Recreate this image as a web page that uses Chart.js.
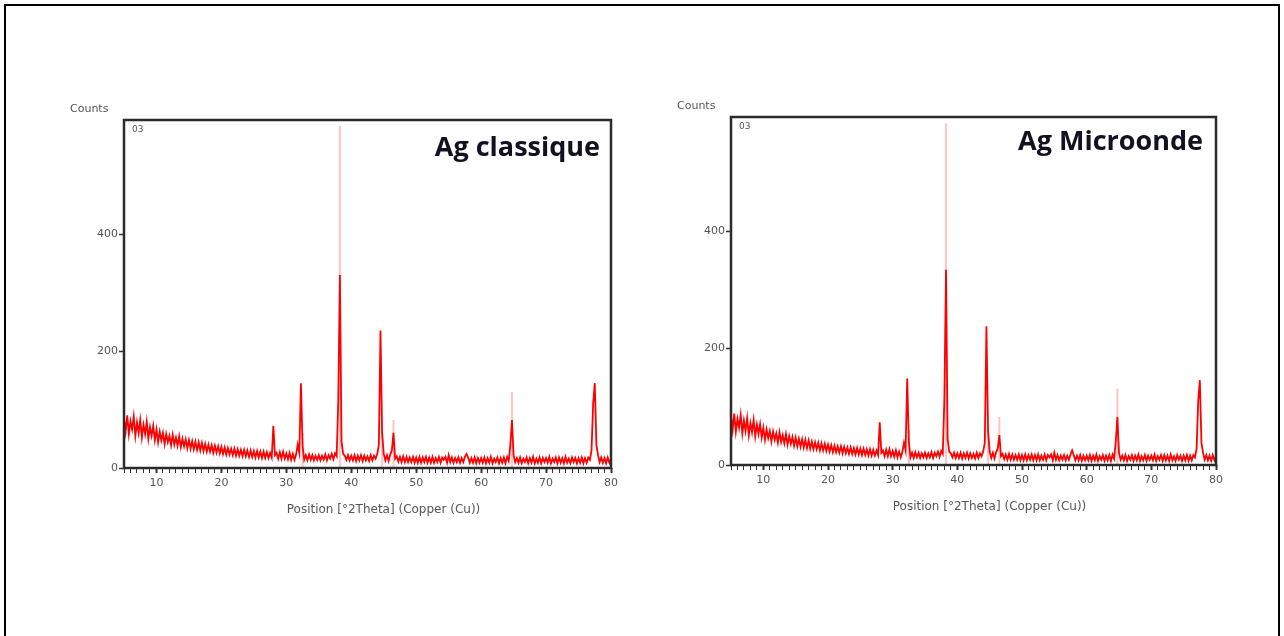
<!DOCTYPE html>
<html>
<head>
<meta charset="utf-8">
<script src="https://cdn.jsdelivr.net/npm/chart.js@4.4.1/dist/chart.umd.min.js"></script>
<style>
    body { margin: 0; background: #ffffff; width: 1284px; height: 636px; overflow: hidden; position: relative; }
    #frame { position: absolute; left: 4px; top: 4px; width: 1272px; height: 700px; border: 2px solid #000; border-bottom: none; }
    .plot { position: absolute; }
</style>
</head>
<body>
<div id="frame"></div>
<div class="plot" style="left:60px; top:95px;"><canvas id="chartClassique" width="570" height="430"></canvas></div>
<div class="plot" style="left:670px; top:92px;"><canvas id="chartMicroonde" width="570" height="430"></canvas></div>
<script>
// scan: 5 to 80 deg 2theta, step 0.25
startAngle = 5;
stepAngle = 0.25;

// counts, one row per 5 degrees
countsClassique = [
    85, 62, 90, 58, 80, 66, 88, 55, 78, 60, 82, 52, 74, 58, 79, 50, 70, 55, 72, 48,
    66, 44, 62, 47, 60, 41, 58, 44, 55, 39, 57, 40, 52, 38, 54, 36, 50, 37, 49, 34,
    48, 33, 46, 32, 45, 31, 44, 30, 43, 29, 41, 28, 40, 28, 39, 26, 38, 26, 37, 25,
    36, 24, 35, 23, 34, 23, 33, 22, 33, 21, 32, 21, 31, 20, 31, 20, 30, 19, 30, 19,
    29, 18, 29, 18, 28, 17, 28, 17, 27, 17, 26, 18, 72, 22, 26, 16, 27, 16, 28, 16,
    25, 15, 26, 14, 24, 14, 23, 40, 26, 145, 38, 14, 22, 13, 23, 14, 22, 13, 21, 14,
    22, 13, 21, 14, 23, 13, 22, 16, 24, 15, 25, 20, 115, 330, 45, 24, 21, 14, 22, 13,
    21, 13, 22, 12, 21, 13, 22, 12, 21, 13, 20, 12, 22, 13, 21, 16, 24, 40, 235, 60,
    24, 13, 22, 12, 23, 30, 60, 16, 20, 11, 19, 10, 20, 10, 19, 10, 18, 10, 19, 9,
    18, 9, 19, 9, 18, 10, 19, 9, 18, 9, 19, 9, 17, 10, 19, 9, 18, 14, 19, 9,
    22, 10, 18, 9, 17, 10, 18, 9, 17, 10, 19, 24, 18, 9, 17, 9, 18, 8, 17, 9,
    17, 9, 18, 8, 17, 9, 19, 8, 16, 10, 18, 8, 17, 9, 18, 8, 19, 12, 40, 82,
    22, 10, 17, 9, 18, 8, 16, 10, 18, 8, 17, 9, 19, 8, 16, 9, 18, 8, 17, 10,
    17, 9, 19, 8, 16, 10, 18, 8, 18, 9, 17, 8, 19, 9, 16, 8, 18, 10, 17, 8,
    17, 9, 18, 8, 17, 9, 18, 14, 30, 110, 145, 40, 22, 10, 18, 9, 17, 8, 18, 9,
    16
];

countsMicroonde = [
    83, 60, 88, 57, 79, 64, 86, 54, 76, 58, 80, 51, 72, 56, 77, 49, 69, 53, 70, 47,
    64, 43, 61, 46, 58, 40, 57, 43, 54, 38, 56, 39, 51, 37, 53, 35, 49, 36, 48, 33,
    47, 32, 45, 31, 44, 30, 43, 29, 42, 28, 40, 27, 39, 27, 38, 25, 37, 25, 36, 24,
    35, 23, 34, 22, 33, 22, 32, 21, 32, 20, 31, 20, 30, 19, 30, 19, 29, 18, 29, 18,
    28, 17, 28, 17, 27, 16, 27, 16, 26, 16, 25, 17, 73, 21, 25, 15, 26, 15, 27, 15,
    24, 14, 25, 13, 23, 13, 22, 38, 25, 148, 40, 13, 21, 12, 22, 13, 21, 12, 20, 13,
    21, 12, 20, 13, 22, 12, 21, 15, 23, 14, 24, 19, 114, 334, 44, 23, 20, 13, 21, 12,
    20, 12, 21, 11, 20, 12, 21, 11, 20, 12, 19, 11, 21, 12, 20, 15, 23, 38, 237, 58,
    23, 12, 21, 11, 22, 28, 51, 15, 19, 10, 18, 9, 19, 9, 18, 9, 17, 9, 18, 8,
    17, 8, 18, 8, 17, 9, 18, 8, 17, 8, 18, 8, 16, 9, 18, 8, 17, 13, 18, 8,
    21, 9, 17, 8, 16, 9, 17, 8, 16, 9, 18, 25, 17, 8, 16, 8, 17, 7, 16, 8,
    16, 8, 17, 7, 16, 8, 18, 7, 15, 9, 17, 7, 16, 8, 17, 7, 18, 11, 40, 82,
    21, 9, 16, 8, 17, 7, 15, 9, 17, 7, 16, 8, 18, 7, 15, 8, 17, 7, 16, 9,
    16, 8, 18, 7, 15, 9, 17, 7, 17, 8, 16, 7, 18, 8, 15, 7, 17, 9, 16, 7,
    16, 8, 17, 7, 16, 8, 17, 13, 28, 110, 145, 38, 21, 9, 17, 8, 16, 7, 17, 8,
    15
];

// thin peak tips that show up pale pink
tipAngles = [32.5, 38.25, 44.75, 46.5, 64.75];
tipClassique = [60, 585, 62, 82, 130];
tipMicroonde = [60, 584, 62, 82, 131];

xTicksMajor = [10, 20, 30, 40, 50, 60, 70, 80];
yTicks = [0, 200, 400];

function MakeProfile(counts){
    var points = [];
    for (var i = 0; i < counts.length; i++){
        points.push({x: startAngle + i * stepAngle, y: counts[i]});
    }
    return points;
}

function MakeTips(heights){
    var points = [];
    for (var i = 0; i < tipAngles.length; i++){
        points.push({x: tipAngles[i], y: 0});
        points.push({x: tipAngles[i], y: heights[i]});
        points.push({x: tipAngles[i], y: null});
    }
    return points;
}

var decorPlugin = {
    id: 'decor',
    afterDraw: function(chart){
        var ctx = chart.ctx;
        var a = chart.chartArea;
        var o = chart.options.plugins.decor;
        ctx.save();
        // plot box
        ctx.strokeStyle = '#2b2b2b';
        ctx.lineWidth = 2.5;
        ctx.strokeRect(a.left, a.top, a.right - a.left, a.bottom - a.top);
        // Counts
        ctx.fillStyle = '#555';
        ctx.font = '11px "DejaVu Sans"';
        ctx.textAlign = 'left';
        ctx.textBaseline = 'alphabetic';
        ctx.fillText('Counts', a.left - 54, a.top - 8);
        // 03
        ctx.font = '9px "DejaVu Sans"';
        ctx.fillText('03', a.left + 8, a.top + 12);
        // axis title
        ctx.font = '12px "DejaVu Sans"';
        ctx.textAlign = 'center';
        ctx.fillText('Position [°2Theta] (Copper (Cu))', (a.left + a.right) / 2 + 16, a.bottom + 45);
        // sample name
        ctx.fillStyle = '#111122';
        ctx.font = 'bold 27px "Open Sans"';
        ctx.textAlign = 'right';
        ctx.fillText(o.name, a.right - o.nameRight, a.top + o.nameBase);
        ctx.restore();
    }
};

function PlotPattern(id, counts, tips, name, yAxisWidth, padRight, nameRight, nameBase){
    var ctx = document.getElementById(id).getContext('2d');
    new Chart(ctx, {
        type: 'line',
        data: {
            datasets: [
                {
                    data: MakeProfile(counts),
                    borderColor: '#ff0000',
                    borderWidth: 1.8,
                    pointRadius: 0,
                    tension: 0,
                    order: 1
                },
                {
                    data: MakeTips(tips),
                    borderColor: '#ffc4c4',
                    borderWidth: 2,
                    pointRadius: 0,
                    spanGaps: false,
                    order: 2
                }
            ]
        },
        options: {
            responsive: false,
            animation: false,
            events: [],
            layout: {
                padding: {left: 0, top: 25, right: padRight, bottom: 0}
            },
            scales: {
                x: {
                    type: 'linear',
                    min: 5,
                    max: 80,
                    afterFit: function(scale){ scale.height = 57; },
                    border: {display: false},
                    grid: {
                        drawOnChartArea: false,
                        tickLength: 5,
                        tickColor: '#333',
                        tickWidth: function(c){ return xTicksMajor.indexOf(c.tick.value) >= 0 ? 2 : 1; }
                    },
                    ticks: {
                        stepSize: 1,
                        autoSkip: false,
                        maxRotation: 0,
                        padding: 4,
                        color: '#555',
                        font: {family: 'DejaVu Sans', size: 11},
                        callback: function(v){ return xTicksMajor.indexOf(v) >= 0 ? String(v) : ''; }
                    }
                },
                y: {
                    min: 0,
                    max: 595,
                    afterFit: function(scale){ scale.width = yAxisWidth; },
                    afterBuildTicks: function(scale){
                        scale.ticks = yTicks.map(function(v){ return {value: v}; });
                    },
                    border: {display: false},
                    grid: {
                        drawOnChartArea: false,
                        tickLength: 5,
                        tickColor: '#333',
                        tickWidth: 1.5
                    },
                    ticks: {
                        padding: 1,
                        color: '#555',
                        font: {family: 'DejaVu Sans', size: 11}
                    }
                }
            },
            plugins: {
                legend: {display: false},
                tooltip: {enabled: false},
                decor: {name: name, nameRight: nameRight, nameBase: nameBase}
            }
        },
        plugins: [decorPlugin]
    });
}

PlotPattern('chartClassique', countsClassique, tipClassique, 'Ag classique', 64, 19, 11, 36);
PlotPattern('chartMicroonde', countsMicroonde, tipMicroonde, 'Ag Microonde', 61, 24, 13, 33);
</script>
</body>
</html>
